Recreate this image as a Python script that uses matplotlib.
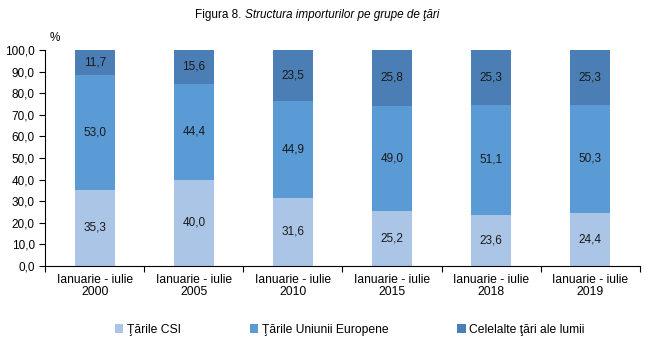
import numpy as np
import matplotlib
matplotlib.use('Agg')
from matplotlib import pyplot as plt

plt.rcParams['font.family'] = ['Liberation Sans', 'DejaVu Sans']

categories = ['Ianuarie - iulie\n2000', 'Ianuarie - iulie\n2005', 'Ianuarie - iulie\n2010',
              'Ianuarie - iulie\n2015', 'Ianuarie - iulie\n2018', 'Ianuarie - iulie\n2019']
csi = [35.3, 40.0, 31.6, 25.2, 23.6, 24.4]
ue = [53.0, 44.4, 44.9, 49.0, 51.1, 50.3]
altele = [11.7, 15.6, 23.5, 25.8, 25.3, 25.3]
serii = ['Ţările CSI', 'Ţările Uniunii Europene', 'Celelalte ţări ale lumii']
culori = ['#abc5e7', '#5b9bd5', '#4a7eb4']

fig = plt.figure(figsize=(6.45, 3.4), dpi=100)
ax = fig.add_axes([0.07, 0.218, 0.922, 0.635])

x = np.arange(len(categories))
w = 0.4
jos = np.zeros(len(categories))
for vals, nume, cul in zip([csi, ue, altele], serii, culori):
    bars = ax.bar(x, vals, w, bottom=jos, color=cul, label=nume)
    for b, v, y0 in zip(bars, vals, jos):
        ax.text(b.get_x() + w / 2, y0 + v / 2, f'{v:.1f}'.replace('.', ','),
                ha='center', va='center', fontsize=8.5, color='#1a1a1a')
    jos = jos + np.array(vals)

ax.set_xlim(-0.5, len(categories) - 0.5)
ax.set_ylim(0, 100)
ax.set_yticks(np.arange(0, 101, 10))
ax.set_yticklabels([f'{v:.1f}'.replace('.', ',') for v in np.arange(0, 101, 10)], fontsize=8.5)
ax.set_xticks(np.arange(-0.5, len(categories), 1))
ax.set_xticklabels([])
ax.set_xticks(x, minor=True)
ax.set_xticklabels(categories, minor=True, fontsize=8.7, linespacing=0.95)
ax.tick_params(axis='x', which='minor', length=0, pad=6)
ax.tick_params(axis='x', which='major', length=4, color='black')
ax.tick_params(axis='y', length=4)
for s in ['top', 'right']:
    ax.spines[s].set_visible(False)

ax.text(-0.45, 103, '%', fontsize=8.5, ha='left', va='bottom')

fig.text(0.38, 0.956, 'Figura 8. ', ha='right', va='center', fontsize=8.5)
fig.text(0.38, 0.956, 'Structura importurilor pe grupe de ţări', ha='left', va='center',
         fontsize=8.5, style='italic')

fig.legend(loc='lower center', bbox_to_anchor=(0.542, -0.02), ncol=3, frameon=False,
           fontsize=8.7, handlelength=0.7, handleheight=0.7, columnspacing=5.7, handletextpad=0.3)

plt.savefig('out.png', dpi=100)
